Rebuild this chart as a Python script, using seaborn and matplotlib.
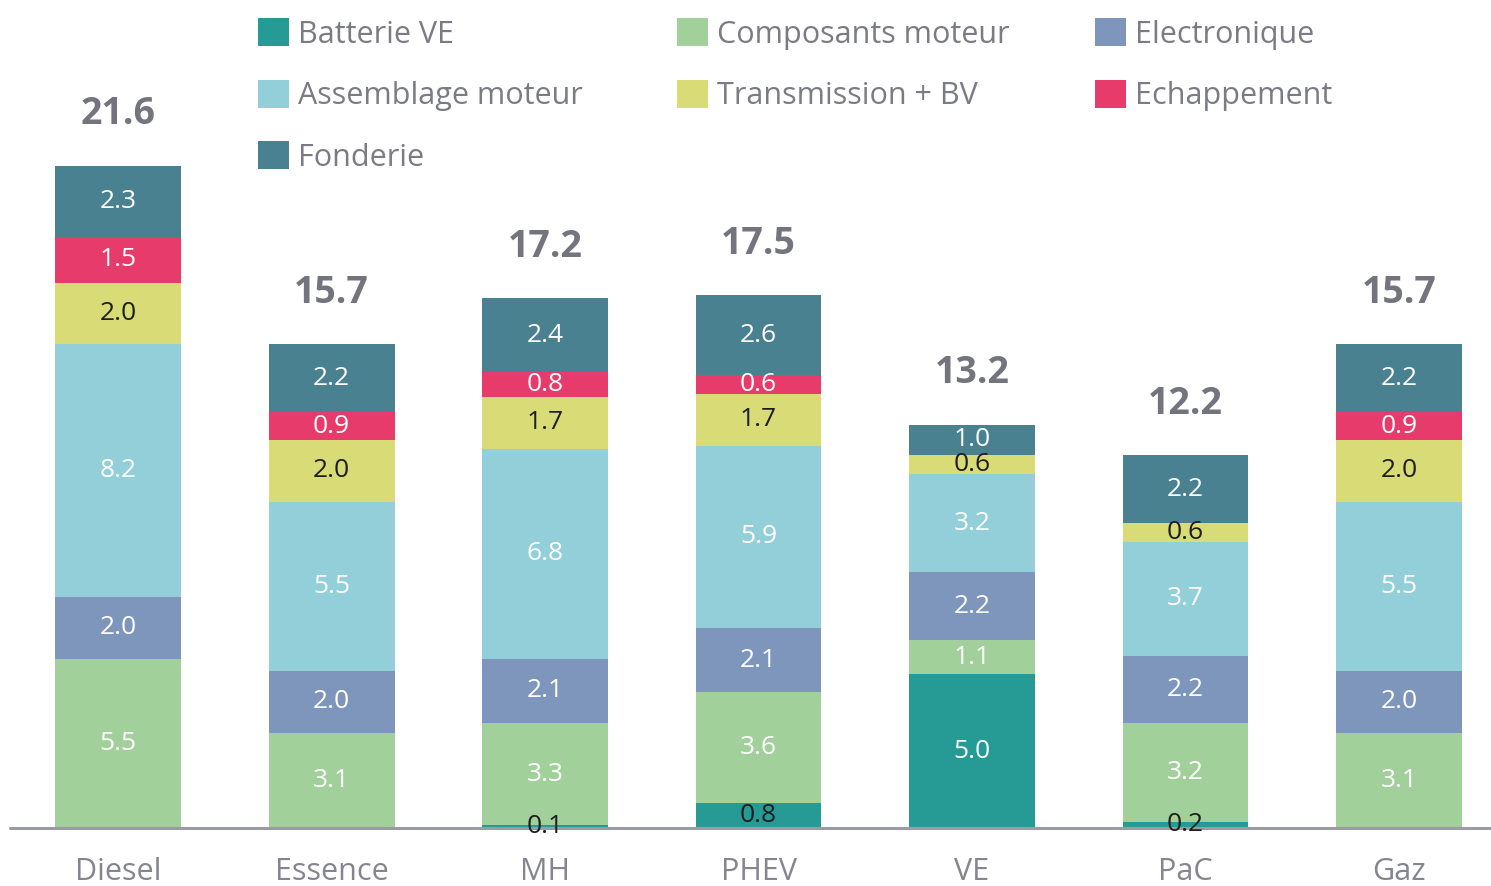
import pandas as pd
import numpy as np
import matplotlib
matplotlib.use('Agg')
import matplotlib.pyplot as plt
from matplotlib.patches import Patch
import seaborn as sns

# Data
categories = ['Diesel', 'Essence', 'MH', 'PHEV', 'VE', 'PaC', 'Gaz']
batterie_ve = [0.0, 0.0, 0.1, 0.8, 5.0, 0.2, 0.0]
composants_moteur = [5.5, 3.1, 3.3, 3.6, 1.1, 3.2, 3.1]
electronique = [2.0, 2.0, 2.1, 2.1, 2.2, 2.2, 2.0]
assemblage_moteur = [8.2, 5.5, 6.8, 5.9, 3.2, 3.7, 5.5]
transmission_bv = [2.0, 2.0, 1.7, 1.7, 0.6, 0.6, 2.0]
echappement = [1.5, 0.9, 0.8, 0.6, 0.0, 0.0, 0.9]
fonderie = [2.3, 2.2, 2.4, 2.6, 1.0, 2.2, 2.2]
totals = ['21.6', '15.7', '17.2', '17.5', '13.2', '12.2', '15.7']

# stack order, bottom to top
layers = [
    ('Batterie VE', batterie_ve, '#269b96'),
    ('Composants moteur', composants_moteur, '#a2d09b'),
    ('Electronique', electronique, '#7e95bc'),
    ('Assemblage moteur', assemblage_moteur, '#93cfd9'),
    ('Transmission + BV', transmission_bv, '#d8db76'),
    ('Echappement', echappement, '#e63b6b'),
    ('Fonderie', fonderie, '#4a8191'),
]

sns.set_theme(style='white')
plt.rcParams['font.family'] = ['Open Sans', 'DejaVu Sans']

grey = '#7b7b85'

fig = plt.figure(figsize=(14.91, 8.86), dpi=100)
ax = fig.add_axes([10 / 1491, 58 / 886, 1481 / 1491, 828 / 886])

# cumulative tops per layer
cum = np.cumsum(np.array([l[1] for l in layers]), axis=0)
df = pd.DataFrame({'cat': categories})

# draw from the top layer down so each lower layer covers the one above
for k in range(len(layers) - 1, -1, -1):
    name, vals, col = layers[k]
    df['h'] = cum[k]
    sns.barplot(data=df, x='cat', y='h', order=categories, color=col,
                saturation=1, width=0.59, errorbar=None, ax=ax,
                edgecolor='none', linewidth=0)

# segment labels
for k, (name, vals, col) in enumerate(layers):
    for i, v in enumerate(vals):
        if v <= 0:
            continue
        mid = cum[k][i] - v / 2
        if name == 'Transmission + BV' or (name == 'Batterie VE' and v < 1):
            tc = '#1e1e1e'
        else:
            tc = 'white'
        ax.text(i, mid, f'{v:.1f}', ha='center', va='center',
                fontsize=19, color=tc, zorder=6, clip_on=False)

# totals on top
for i, t in enumerate(totals):
    ax.annotate(t, (i, cum[-1][i]), xytext=(0, 37), textcoords='offset points',
                ha='center', va='center', fontsize=27, fontweight='bold',
                color='#74747e')

ax.set_xlim(-0.506, 6.431)
ax.set_ylim(0, 828 / 30.8)
ax.axhline(0, color='#9b9ba3', lw=2.2, clip_on=False, zorder=5)
sns.despine(ax=ax, left=True, bottom=True)
ax.set_yticks([])
ax.set_xlabel('')
ax.set_ylabel('')
ax.tick_params(axis='x', length=0, pad=21, labelsize=22, labelcolor='#85858f')

# legend: three columns placed at the reference x positions
columns = [([0, 3, 6], 258), ([1, 4], 677), ([2, 5], 1095)]
for idx, x0 in columns:
    handles = [Patch(facecolor=layers[j][2], edgecolor='none') for j in idx]
    labels = [layers[j][0] for j in idx]
    fig.legend(handles, labels, loc='upper left',
               bbox_to_anchor=(x0 / 1491, 1 - 18 / 886),
               frameon=False, fontsize=22, handlelength=1.0, handleheight=1.05,
               handletextpad=0.3, labelspacing=0.98, labelcolor=grey,
               borderaxespad=0, borderpad=0)

fig.savefig('out.png', dpi=100)
